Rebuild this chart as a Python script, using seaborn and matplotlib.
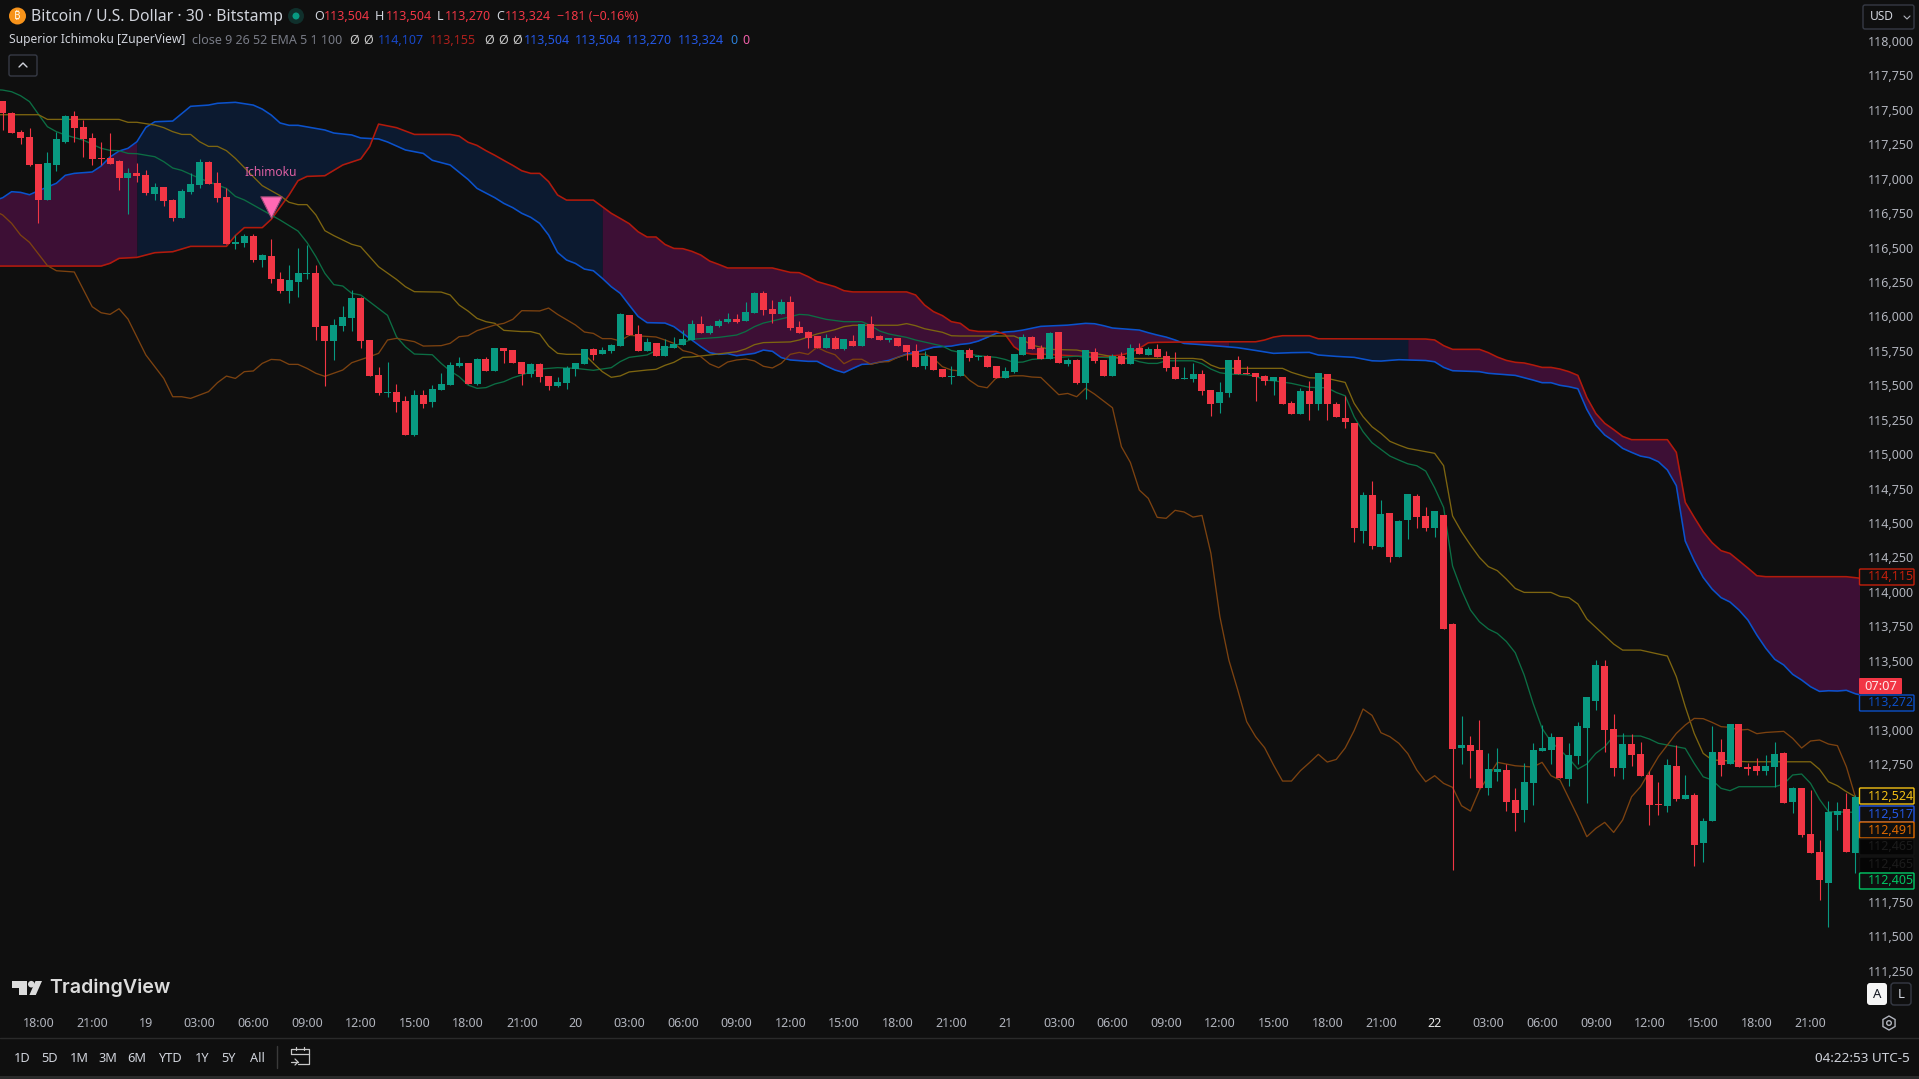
import numpy as np
import matplotlib
matplotlib.use('Agg')
import matplotlib.pyplot as plt
import seaborn as sns
from matplotlib.patches import Circle, FancyBboxPatch, Polygon, RegularPolygon

# candles, one value per 30 minute bar
candle_dir = ("RRRRRGGGRR" "RRRRGRRGRR" "GGGRRRGGRG" "RRGGGRRGGG" "RRRGRRGRGG"
              "GGRGRGRRRG" "RRGGGGRGGG" "RRGRGGGGRG" "GGRGGRRGRR" "RRGRGRGRRG"
              "RRRGRRGGRG" "RRGGGRRGRG" "RGRRGRGRGR" "RRGGRRGGRR" "RRGRRGRGRR"
              "RRGRGRGGRR" "GRRGRRGGRR" "GGGGRGGGGR" "RGRRRRGRGR" "GGRGRRRGGR"
              "GRRRGGRG")
candle_high = [
    117565, 117485, 117354, 117368, 117107, 117194, 117342, 117465, 117492, 117427,
    117330, 117267, 117332, 117136, 117078, 117114, 117063, 116969, 116940, 116853,
    116925, 117042, 117143, 117129, 117049, 116933, 116591, 116599, 116599, 116453,
    116562, 116323, 116373, 116497, 116519, 116373, 115931, 115981, 116076, 116192,
    116141, 115829, 115633, 115669, 115509, 115422, 115466, 115466, 115502, 115589,
    115669, 115705, 115662, 115698, 115706, 115771, 115771, 115756, 115669, 115662,
    115662, 115568, 115560, 115640, 115662, 115764, 115771, 115778, 115800, 116025,
    116011, 115938, 115844, 115807, 115836, 115851, 115902, 115974, 116003, 115938,
    115982, 116025, 116018, 116105, 116178, 116185, 116120, 116127, 116149, 115967,
    115894, 115858, 115873, 115858, 115836, 115865, 115945, 116003, 115865, 115844,
    115844, 115793, 115800, 115749, 115713, 115618, 115640, 115756, 115770, 115720,
    115720, 115640, 115632, 115727, 115872, 115858, 115792, 115887, 115887, 115698,
    115691, 115756, 115770, 115683, 115727, 115741, 115800, 115807, 115778, 115800,
    115749, 115741, 115632, 115662, 115611, 115465, 115524, 115683, 115712, 115640,
    115589, 115574, 115560, 115560, 115386, 115480, 115531, 115589, 115582, 115378,
    115422, 115226, 114725, 114805, 114667, 114572, 114521, 114710, 114710, 114616,
    114587, 114558, 113774, 113098, 112953, 113069, 112829, 112866, 112750, 112575,
    112757, 112902, 113033, 112975, 112946, 112902, 113055, 113236, 113505, 113505,
    113113, 112975, 112967, 112909, 112699, 112619, 112786, 112887, 112670, 112539,
    112357, 113025, 112931, 113040, 113040, 112757, 112793, 112815, 112909, 112837,
    112582, 112575, 112561, 112198, 112481, 112474, 112539, 112524]
candle_top = [
    117565, 117477, 117339, 117303, 117107, 117114, 117289, 117456, 117456, 117376,
    117296, 117151, 117151, 117129, 117042, 117042, 117027, 116940, 116940, 116846,
    116911, 116962, 117122, 117122, 116969, 116867, 116541, 116584, 116584, 116446,
    116439, 116272, 116265, 116315, 116315, 116315, 115931, 115938, 115996, 116134,
    116134, 115829, 115575, 115451, 115451, 115386, 115429, 115429, 115473, 115509,
    115647, 115662, 115662, 115691, 115691, 115771, 115771, 115756, 115669, 115655,
    115655, 115568, 115524, 115626, 115662, 115764, 115764, 115756, 115793, 116018,
    116011, 115873, 115815, 115807, 115785, 115800, 115836, 115945, 115945, 115931,
    115967, 115982, 115982, 116032, 116170, 116170, 116054, 116105, 116105, 115923,
    115887, 115858, 115844, 115844, 115836, 115822, 115945, 115945, 115858, 115844,
    115844, 115793, 115749, 115713, 115713, 115618, 115568, 115756, 115756, 115712,
    115712, 115640, 115603, 115727, 115850, 115850, 115770, 115879, 115887, 115683,
    115683, 115756, 115741, 115683, 115712, 115712, 115770, 115770, 115763, 115763,
    115712, 115632, 115553, 115582, 115582, 115465, 115451, 115683, 115683, 115589,
    115589, 115567, 115560, 115560, 115371, 115458, 115458, 115589, 115582, 115364,
    115262, 115226, 114703, 114703, 114565, 114572, 114514, 114710, 114696, 114550,
    114587, 114558, 113766, 112887, 112887, 112851, 112713, 112713, 112706, 112488,
    112619, 112851, 112866, 112946, 112946, 112815, 113025, 113236, 113468, 113461,
    113004, 112895, 112895, 112822, 112670, 112459, 112742, 112735, 112524, 112524,
    112336, 112837, 112837, 113040, 113040, 112728, 112735, 112735, 112822, 112829,
    112575, 112575, 112241, 112110, 112401, 112408, 112423, 112510]
candle_bottom = [
    117475, 117335, 117296, 117100, 116846, 116846, 117100, 117267, 117368, 117289,
    117143, 117143, 117107, 117005, 117005, 117020, 116896, 116889, 116838, 116715,
    116715, 116904, 116954, 116962, 116860, 116526, 116526, 116533, 116410, 116410,
    116272, 116185, 116185, 116250, 116308, 115923, 115822, 115822, 115931, 115989,
    115822, 115567, 115444, 115444, 115379, 115139, 115139, 115364, 115379, 115466,
    115502, 115640, 115509, 115509, 115604, 115604, 115749, 115662, 115582, 115582,
    115560, 115495, 115495, 115517, 115618, 115655, 115720, 115727, 115749, 115785,
    115865, 115749, 115749, 115713, 115713, 115771, 115793, 115829, 115880, 115880,
    115931, 115960, 115960, 115967, 116025, 116047, 116018, 116018, 115916, 115880,
    115844, 115771, 115771, 115764, 115764, 115785, 115785, 115844, 115829, 115829,
    115785, 115742, 115633, 115640, 115611, 115560, 115560, 115568, 115698, 115705,
    115632, 115553, 115553, 115596, 115720, 115763, 115691, 115691, 115662, 115654,
    115516, 115516, 115676, 115567, 115567, 115654, 115654, 115727, 115720, 115705,
    115625, 115545, 115545, 115545, 115458, 115364, 115371, 115444, 115582, 115582,
    115560, 115531, 115531, 115364, 115291, 115291, 115364, 115364, 115364, 115269,
    115233, 114463, 114441, 114333, 114325, 114253, 114253, 114521, 114543, 114463,
    114463, 113730, 112859, 112866, 112844, 112575, 112575, 112691, 112474, 112394,
    112415, 112612, 112844, 112851, 112648, 112641, 112808, 113011, 113207, 112996,
    112720, 112720, 112815, 112662, 112452, 112452, 112444, 112495, 112495, 112161,
    112176, 112336, 112742, 112750, 112728, 112713, 112699, 112699, 112728, 112466,
    112474, 112234, 112103, 111907, 111885, 112379, 112110, 112103]
candle_low = [
    117354, 117335, 117252, 117092, 116681, 116846, 117059, 117262, 117267, 117158,
    117100, 117100, 117107, 116918, 116744, 116976, 116882, 116846, 116802, 116693,
    116715, 116889, 116933, 116962, 116831, 116526, 116490, 116504, 116395, 116359,
    116243, 116170, 116098, 116141, 116272, 115829, 115495, 115684, 115894, 115894,
    115771, 115567, 115429, 115415, 115306, 115139, 115132, 115335, 115342, 115466,
    115502, 115633, 115509, 115502, 115604, 115604, 115662, 115662, 115502, 115560,
    115524, 115466, 115488, 115473, 115568, 115655, 115684, 115727, 115735, 115785,
    115865, 115749, 115749, 115713, 115713, 115771, 115793, 115829, 115880, 115873,
    115923, 115952, 115952, 115967, 116025, 116011, 115952, 116018, 115902, 115880,
    115771, 115771, 115771, 115764, 115756, 115785, 115785, 115844, 115829, 115815,
    115785, 115684, 115633, 115618, 115611, 115560, 115510, 115568, 115676, 115683,
    115632, 115553, 115553, 115589, 115720, 115763, 115691, 115691, 115662, 115640,
    115509, 115400, 115662, 115567, 115567, 115654, 115654, 115727, 115720, 115705,
    115603, 115545, 115545, 115524, 115429, 115277, 115298, 115415, 115582, 115582,
    115386, 115502, 115429, 115364, 115291, 115291, 115248, 115320, 115248, 115269,
    115189, 114362, 114354, 114311, 114325, 114216, 114253, 114383, 114463, 114441,
    114398, 113730, 111980, 112750, 112648, 112575, 112524, 112626, 112408, 112263,
    112328, 112452, 112844, 112750, 112648, 112590, 112750, 112466, 113142, 112837,
    112662, 112641, 112735, 112662, 112306, 112379, 112401, 112481, 112495, 112009,
    112038, 112336, 112662, 112750, 112728, 112670, 112670, 112670, 112582, 112466,
    112394, 112219, 112103, 111762, 111566, 112270, 112110, 111958]

# indicator lines: bar number and price at each kink (bar -1 runs off the left edge)
blue_bar = [-1, 0, 1, 2, 3, 4, 6, 7, 8, 10, 11, 12, 13, 14, 15, 16, 17, 19, 21, 23, 24, 26, 28, 29, 30, 31, 32, 33, 36,
            37, 39, 40, 42, 43, 45, 47, 48, 50, 52, 53, 55, 56, 57, 58, 59, 60, 61, 62, 63, 64, 65, 66, 67, 68, 69, 70,
            71, 72, 74, 75, 76, 77, 78, 79, 80, 81, 82, 84, 85, 86, 87, 88, 90, 91, 92, 93, 94, 95, 96, 97, 99, 100,
            101, 102, 104, 105, 106, 107, 108, 109, 110, 111, 112, 113, 114, 116, 119, 121, 122, 123, 124, 127, 128,
            129, 130, 131, 132, 134, 138, 140, 142, 144, 146, 147, 149, 151, 153, 154, 156, 159, 160, 161, 162, 165,
            166, 169, 171, 172, 173, 174, 175, 176, 177, 178, 179, 180, 181, 182, 183, 184, 185, 186, 187, 188, 189,
            190, 191, 192, 193, 194, 195, 196, 197, 198, 199, 200, 201, 202, 203, 204, 205, 206, 207, 208]
blue_price = [116840, 116862, 116906, 116901, 116884, 116913, 116967, 117025, 117039, 117049, 117092, 117158, 117201,
              117221, 117269, 117373, 117414, 117419, 117526, 117535, 117548, 117555, 117535, 117506, 117463, 117405,
              117388, 117388, 117354, 117332, 117318, 117296, 117289, 117267, 117209, 117184, 117134, 117100, 116995,
              116930, 116862, 116821, 116790, 116749, 116720, 116676, 116591, 116465, 116410, 116385, 116344, 116332,
              116277, 116216, 116168, 116083, 116000, 115955, 115952, 115926, 115877, 115829, 115781, 115737, 115725,
              115730, 115715, 115732, 115756, 115747, 115701, 115684, 115674, 115674, 115640, 115611, 115592, 115623,
              115652, 115655, 115681, 115703, 115727, 115739, 115776, 115781, 115785, 115797, 115804, 115821, 115848,
              115877, 115887, 115891, 115901, 115928, 115937, 115950, 115947, 115933, 115916, 115901, 115882, 115865,
              115850, 115829, 115804, 115795, 115773, 115753, 115732, 115737, 115739, 115720, 115710, 115703, 115678,
              115676, 115686, 115680, 115671, 115630, 115606, 115599, 115587, 115572, 115538, 115519, 115519, 115500,
              115490, 115475, 115325, 115211, 115139, 115095, 115042, 115013, 114986, 114974, 114945, 114885, 114771,
              114369, 114226, 114105, 114020, 113958, 113926, 113868, 113795, 113686, 113590, 113510, 113469, 113401,
              113360, 113311, 113277, 113282, 113280, 113285, 113260, 113245]
red_bar = [-1, 0, 11, 12, 13, 15, 17, 19, 21, 25, 26, 27, 29, 30, 32, 33, 34, 36, 38, 40, 41, 42, 44, 46, 50, 51, 52,
           53, 54, 55, 56, 57, 58, 59, 60, 61, 62, 63, 66, 67, 68, 69, 70, 71, 72, 73, 74, 75, 76, 77, 78, 79, 80, 81,
           86, 88, 89, 90, 91, 93, 94, 95, 101, 102, 103, 104, 105, 106, 107, 108, 109, 111, 112, 113, 114, 115, 117,
           120, 123, 125, 126, 127, 128, 129, 134, 140, 141, 142, 143, 146, 147, 159, 160, 161, 162, 165, 166, 167,
           168, 169, 170, 171, 172, 173, 174, 175, 176, 177, 178, 179, 180, 181, 182, 186, 187, 188, 189, 190, 191,
           192, 193, 194, 195, 196, 197, 206, 207, 208]
red_price = [116366, 116366, 116366, 116386, 116422, 116429, 116463, 116470, 116509, 116509, 116587, 116645, 116645,
             116705, 116882, 116986, 117017, 117022, 117100, 117143, 117233, 117397, 117371, 117322, 117322, 117310,
             117265, 117242, 117204, 117170, 117133, 117097, 117058, 117039, 117039, 116979, 116882, 116845, 116845,
             116797, 116749, 116712, 116674, 116615, 116577, 116577, 116523, 116494, 116492, 116473, 116446, 116402,
             116378, 116352, 116352, 116320, 116318, 116289, 116253, 116216, 116187, 116178, 116178, 116156, 116083,
             116035, 116006, 115962, 115950, 115901, 115891, 115891, 115870, 115780, 115737, 115727, 115724, 115712,
             115707, 115720, 115739, 115768, 115809, 115812, 115816, 115816, 115829, 115850, 115860, 115860, 115838,
             115836, 115829, 115788, 115761, 115761, 115737, 115705, 115681, 115667, 115662, 115647, 115630, 115630,
             115618, 115599, 115572, 115412, 115296, 115224, 115178, 115129, 115105, 115105, 115013, 114650, 114541,
             114437, 114357, 114299, 114279, 114226, 114173, 114117, 114110, 114110, 114103, 114095]
green_bar = [-1, 0, 1, 2, 3, 4, 5, 6, 7, 9, 11, 12, 13, 14, 15, 17, 18, 19, 20, 22, 25, 26, 27, 30, 31, 33, 34, 35, 36,
             37, 38, 39, 40, 41, 42, 43, 44, 45, 46, 48, 49, 50, 51, 52, 53, 54, 55, 56, 57, 58, 59, 60, 62, 64, 66, 68,
             69, 70, 72, 73, 75, 77, 78, 80, 82, 83, 84, 85, 86, 88, 89, 90, 92, 94, 96, 97, 98, 99, 101, 102, 105, 106,
             107, 108, 109, 111, 112, 113, 114, 115, 116, 120, 121, 123, 126, 127, 128, 129, 130, 133, 134, 135, 136,
             137, 139, 140, 141, 142, 144, 146, 148, 149, 150, 151, 152, 153, 154, 155, 156, 157, 158, 159, 160, 161,
             162, 163, 164, 165, 166, 167, 168, 169, 170, 171, 172, 173, 175, 176, 177, 178, 179, 180, 183, 184, 185,
             188, 189, 190, 191, 192, 193, 194, 198, 199, 200, 201, 202, 203, 204, 207]
green_price = [117648, 117644, 117632, 117603, 117560, 117468, 117378, 117342, 117318, 117281, 117221, 117206, 117204,
               117184, 117182, 117160, 117124, 117078, 117061, 117003, 116930, 116872, 116846, 116737, 116700, 116620,
               116538, 116434, 116313, 116231, 116221, 116168, 116156, 116107, 116059, 116008, 115853, 115780, 115727,
               115722, 115659, 115604, 115563, 115502, 115478, 115483, 115510, 115526, 115555, 115575, 115599, 115618,
               115628, 115623, 115609, 115628, 115672, 115703, 115720, 115752, 115785, 115834, 115839, 115848, 115865,
               115890, 115926, 115952, 115967, 115998, 116015, 116011, 115979, 115962, 115962, 115933, 115894, 115873,
               115848, 115829, 115785, 115752, 115739, 115727, 115715, 115703, 115688, 115666, 115669, 115688, 115693,
               115712, 115703, 115703, 115693, 115671, 115659, 115659, 115678, 115678, 115657, 115618, 115591, 115582,
               115577, 115567, 115538, 115533, 115514, 115485, 115482, 115448, 115424, 115272, 115163, 115083, 115035,
               114986, 114957, 114930, 114916, 114877, 114755, 114613, 114187, 114013, 113868, 113783, 113730, 113698,
               113640, 113558, 113396, 113190, 113009, 112912, 112791, 112713, 112750, 112827, 112875, 112953, 112953,
               112931, 112900, 112863, 112754, 112657, 112633, 112573, 112556, 112585, 112585, 112604, 112670, 112677,
               112609, 112493, 112403, 112399]
yellow_bar = [-1, 0, 4, 5, 13, 14, 15, 17, 18, 19, 20, 21, 22, 23, 24, 25, 26, 28, 29, 31, 32, 33, 34, 35, 36, 37, 39,
              40, 41, 42, 44, 45, 46, 49, 50, 51, 52, 53, 54, 55, 56, 58, 59, 60, 61, 62, 63, 65, 66, 67, 68, 69, 70, 72,
              73, 74, 75, 76, 77, 79, 82, 83, 84, 85, 88, 89, 91, 93, 94, 95, 100, 101, 102, 103, 105, 106, 107, 113,
              114, 115, 117, 120, 121, 123, 125, 133, 134, 135, 136, 143, 144, 145, 146, 148, 150, 151, 152, 153, 154,
              155, 156, 157, 159, 160, 161, 162, 163, 164, 165, 166, 167, 168, 169, 170, 173, 174, 175, 176, 177, 178,
              179, 180, 181, 183, 186, 187, 188, 189, 190, 191, 195, 202, 203, 204, 205, 206, 207]
yellow_price = [117465, 117465, 117465, 117431, 117431, 117410, 117410, 117390, 117371, 117342, 117322, 117322, 117269,
                117235, 117235, 117204, 117148, 117015, 116950, 116877, 116829, 116812, 116812, 116737, 116623, 116587,
                116524, 116507, 116434, 116361, 116269, 116216, 116180, 116177, 116156, 116083, 116039, 115986, 115962,
                115950, 115899, 115890, 115890, 115873, 115785, 115732, 115725, 115725, 115660, 115599, 115558, 115568,
                115597, 115611, 115616, 115645, 115667, 115703, 115706, 115720, 115744, 115764, 115795, 115810, 115815,
                115829, 115873, 115904, 115926, 115936, 115936, 115948, 115933, 115911, 115885, 115860, 115858, 115858,
                115829, 115792, 115761, 115756, 115744, 115720, 115695, 115695, 115688, 115647, 115623, 115623, 115594,
                115574, 115555, 115550, 115521, 115369, 115272, 115199, 115151, 115093, 115066, 115042, 115018, 115006,
                114916, 114551, 114437, 114340, 114250, 114183, 114154, 114093, 114025, 113996, 113996, 113967, 113958,
                113912, 113803, 113742, 113682, 113621, 113577, 113577, 113534, 113384, 113166, 112972, 112827, 112779,
                112766, 112766, 112711, 112621, 112592, 112549, 112512]
orange_bar = [-1, 0, 1, 2, 3, 5, 6, 8, 10, 11, 12, 13, 14, 16, 18, 19, 20, 21, 23, 24, 25, 26, 27, 28, 29, 30, 31, 32,
              33, 34, 35, 36, 38, 39, 41, 42, 43, 44, 46, 47, 49, 50, 51, 52, 53, 55, 56, 57, 58, 60, 61, 62, 64, 65, 66,
              67, 68, 69, 70, 73, 74, 75, 76, 77, 78, 79, 80, 81, 82, 83, 84, 85, 86, 87, 88, 89, 90, 91, 92, 93, 94, 95,
              96, 97, 98, 99, 100, 101, 103, 104, 105, 106, 107, 108, 109, 110, 111, 112, 113, 114, 115, 116, 118, 119,
              120, 121, 122, 123, 124, 125, 126, 127, 128, 129, 130, 131, 132, 133, 134, 135, 136, 137, 138, 139, 140,
              141, 142, 143, 144, 145, 146, 147, 148, 149, 150, 151, 152, 153, 154, 155, 156, 157, 158, 159, 160, 161,
              162, 163, 164, 165, 166, 167, 169, 171, 172, 173, 174, 176, 177, 178, 179, 180, 181, 182, 183, 184, 185,
              187, 188, 189, 190, 191, 192, 193, 194, 195, 196, 197, 199, 200, 201, 202, 203, 204, 205, 206, 207]
orange_price = [116770, 116737, 116676, 116591, 116538, 116369, 116332, 116323, 116071, 116027, 116015, 116056, 115981,
                115720, 115550, 115417, 115417, 115405, 115454, 115519, 115567, 115550, 115599, 115604, 115659, 115688,
                115684, 115652, 115652, 115623, 115587, 115565, 115611, 115664, 115708, 115732, 115829, 115841, 115817,
                115785, 115788, 115805, 115853, 115860, 115897, 115938, 115950, 115979, 116042, 116040, 116061, 116015,
                115938, 115887, 115877, 115839, 115839, 115822, 115863, 115851, 115829, 115805, 115752, 115737, 115708,
                115655, 115628, 115669, 115684, 115691, 115677, 115638, 115626, 115660, 115725, 115739, 115725, 115776,
                115744, 115722, 115657, 115689, 115689, 115652, 115669, 115672, 115703, 115722, 115727, 115696, 115635,
                115611, 115604, 115538, 115494, 115482, 115553, 115562, 115569, 115569, 115560, 115557, 115432, 115441,
                115417, 115478, 115436, 115386, 115337, 115054, 114940, 114739, 114679, 114541, 114534, 114592, 114580,
                114543, 114555, 114279, 113820, 113505, 113287, 113057, 112948, 112868, 112742, 112626, 112626, 112701,
                112759, 112820, 112764, 112783, 112866, 112992, 113149, 113103, 112977, 112948, 112900, 112825, 112706,
                112621, 112665, 112609, 112580, 112447, 112408, 112561, 112658, 112762, 112737, 112728, 112762, 112665,
                112633, 112367, 112222, 112282, 112326, 112253, 112343, 112512, 112585, 112694, 112803, 112972, 113033,
                113081, 113079, 113052, 113021, 113016, 112996, 113001, 112970, 112979, 112987, 112936, 112866, 112917,
                112924, 112895, 112883, 112730, 112512]

# where the cloud changes colour (bar numbers)
cloud_edges = [-1, 15, 67, 137, 157, 208]
cloud_kind = ['bear', 'bull', 'bear', 'bull', 'bear']

signal_bar = 30
signal_price = 116797
signal_text_price = 117049

# the other round prices sit behind the tags on the price scale
price_ticks = [111250, 111500, 111750, 112750, 113000, 113500, 113750, 114000, 114250, 114500, 114750, 115000, 115250,
               115500, 115750, 116000, 116250, 116500, 116750, 117000, 117250, 117500, 117750, 118000]
time_labels = ['18:00', '21:00', '19', '03:00', '06:00', '09:00', '12:00', '15:00', '18:00', '21:00',
               '20', '03:00', '06:00', '09:00', '12:00', '15:00', '18:00', '21:00',
               '21', '03:00', '06:00', '09:00', '12:00', '15:00', '18:00', '21:00',
               '22', '03:00', '06:00', '09:00', '12:00', '15:00', '18:00', '21:00']
time_bars = list(range(4, 208, 6))

range_buttons = ['1D', '5D', '1M', '3M', '6M', 'YTD', '1Y', '5Y', 'All']
tag_values = ['114,115', '113,272', '112,524', '112,517', '112,491', '112,465', '112,465', '112,405']
tag_colors = ['#c4200c', '#0c50c8', '#f2c014', '#2458e6', '#e06a00', '#141414', '#141414', '#00c864']
tag_tops = [569, 695, 788, 806, 822, 839, 857, 873]

W, H = 1919, 1079
PANE_W, PANE_H = 1859, 1013
BG = '#0f0f0f'
UP = '#089981'
DOWN = '#f23645'
GREY = '#b2b5be'
FONT = 'Noto Sans'

sns.set_theme(style='dark', rc={'axes.facecolor': BG, 'figure.facecolor': BG, 'axes.grid': False})
plt.rcParams['font.family'] = [FONT, 'DejaVu Sans']

fig = plt.figure(figsize=(W / 100, H / 100), dpi=100)
ax = fig.add_axes([0, 1 - PANE_H / H, PANE_W / W, PANE_H / H])

# cloud
bars = np.arange(-1, 209)
blue_on_bars = np.interp(bars, blue_bar, blue_price)
red_on_bars = np.interp(bars, red_bar, red_price)
cloud_colors = {'bear': '#3d0f35', 'bull': '#0c1a30'}
for start, end, kind in zip(cloud_edges[:-1], cloud_edges[1:], cloud_kind):
    keep = (bars >= start) & (bars <= end)
    ax.fill_between(bars[keep], blue_on_bars[keep], red_on_bars[keep], color=cloud_colors[kind], lw=0, zorder=1)

# indicator lines
line_style = [(blue_bar, blue_price, '#0b52cc', 1.15), (red_bar, red_price, '#b21a0c', 1.15),
              (green_bar, green_price, '#0c6e44', 0.95), (yellow_bar, yellow_price, '#7d6510', 0.95),
              (orange_bar, orange_price, '#7c4210', 0.95)]
for xs, ys, color, width in line_style:
    sns.lineplot(x=xs, y=ys, color=color, linewidth=width, ax=ax, estimator=None, sort=False, legend=False, zorder=2)

# candles
x = np.arange(len(candle_dir))
colors = [UP if d == 'G' else DOWN for d in candle_dir]
ax.vlines(x, candle_low, candle_high, colors=colors, linewidth=0.8, zorder=3)
ax.bar(x, np.array(candle_top) - np.array(candle_bottom), bottom=candle_bottom, width=0.78, color=colors,
       linewidth=0, zorder=4)

# signal
ax.scatter([signal_bar], [signal_price], marker='v', s=235, color='#ff69b4', edgecolors='#a04a78', linewidths=0.8,
           zorder=5)
ax.text(signal_bar, signal_text_price, 'Ichimoku', color='#dc5fa2', fontsize=8.6, ha='center', va='center', zorder=5)

# same scale as the screenshot: 8.95 px per bar, 0.1377 px per dollar
ax.set_xlim(-2.67 / 8.95, (PANE_W - 2.67) / 8.95)
ax.set_ylim(113500 - (PANE_H - 660.7) / 0.1377, 113500 + 660.7 / 0.1377)
ax.set_xlabel('')
ax.set_ylabel('')
ax.yaxis.tick_right()
ax.set_yticks(price_ticks, [f'{p:,}' for p in price_ticks])
ax.set_xticks(time_bars, time_labels)
ax.tick_params(axis='y', length=0, pad=6.3, labelsize=9, labelcolor=GREY)
ax.tick_params(axis='x', length=0, pad=3, labelsize=9, labelcolor=GREY)
for tick, label_text in zip(ax.get_xticklabels(), time_labels):
    if label_text == '22':
        tick.set_color('#e8e8e8')
        tick.set_fontweight('bold')
for spine in ax.spines.values():
    spine.set_visible(False)

# everything around the chart, in screen pixels
ui = fig.add_axes([0, 0, 1, 1], zorder=5)
ui.patch.set_alpha(0)
ui.set_xlim(0, W)
ui.set_ylim(H, 0)
ui.axis('off')


def label(px, py, s, color=GREY, size=9, ha='left', **kw):
    ui.text(px, py, s, color=color, fontsize=size, ha=ha, va='center', **kw)


def box(px, py, w, h, face, edge, r=2, lw=1.0):
    ui.add_patch(FancyBboxPatch((px + r, py + r), w - 2 * r, h - 2 * r, boxstyle=f'round,pad={r},rounding_size={r}',
                                facecolor=face, edgecolor=edge, linewidth=lw))


# header
ui.add_patch(Circle((17.5, 16), 8.5, color='#f7931a', lw=0))
label(17.5, 16, '\u20bf', color='#fff3e0', size=8, ha='center',
      family=['Noto Sans', 'Roboto', 'Open Sans', 'Lato', 'Inter', 'Liberation Sans', 'DejaVu Sans'])
label(31, 17, 'Bitcoin / U.S. Dollar · 30 · Bitstamp', color='#d1d4dc', size=11.3)
ui.add_patch(Circle((296, 16), 8, color='#10302c', lw=0))
ui.add_patch(Circle((296, 16), 3.5, color='#089981', lw=0))
for px, s, c in [(314, 'O', '#d1d4dc'), (324, '113,504', DOWN), (375, 'H', '#d1d4dc'), (386, '113,504', DOWN),
                 (437, 'L', '#d1d4dc'), (445, '113,270', DOWN), (496, 'C', '#d1d4dc'), (505, '113,324', DOWN),
                 (557, '\u2212181 (\u22120.16%)', DOWN)]:
    label(px, 17, s, color=c, size=9.0)
label(9, 40, 'Superior Ichimoku [ZuperView]', color='#d1d4dc', size=8.7)
label(192, 40, 'close 9 26 52 EMA 5 1 100', color='#787b86', size=9.0)
for px, s, c in [(349, 'Ø', '#c8c8c8'), (363, 'Ø', '#c8c8c8'), (378, '114,107', '#1848c8'), (430, '113,155', '#b0201c'),
                 (484, 'Ø', '#c8c8c8'), (498, 'Ø', '#c8c8c8'), (512, 'Ø', '#c8c8c8'), (524, '113,504', '#2458e6'),
                 (575, '113,504', '#2458e6'), (626, '113,270', '#2458e6'), (678, '113,324', '#2458e6'),
                 (730, '0', '#2c80d8'), (742, '0', '#f060a8')]:
    label(px, 40, s, color=c, size=9.0)
box(9, 55, 28, 21, BG, '#363a45')
ui.plot([19, 23, 27], [67, 63, 67], color='#d1d4dc', lw=1)

# currency button
box(1863, 5, 51, 24, '#0f0f0f', '#363a45')
label(1870, 17, 'USD', color='#d1d4dc', size=8.6)
ui.plot([1904, 1907, 1910], [16, 19, 16], color='#b2b5be', lw=0.8)

# price tags on the right
for value, color, top in zip(tag_values, tag_colors, tag_tops):
    box(1859.5, top, 54.5, 16, BG if color != '#141414' else '#050505', color, r=1, lw=1.0)
    label(1867.5, top + 8, value, color=color if color != '#141414' else '#1c1c1c', size=9)
box(1859, 678, 43, 16, DOWN, DOWN, r=1, lw=0)
label(1881, 686, '07:07', color='#ffe6e8', size=9.3, ha='center', fontweight='bold')

# logo
ui.add_patch(Polygon([(12, 981), (27, 981), (27, 995), (19, 995), (19, 988), (12, 988)], color='#dcdcdc', lw=0))
ui.add_patch(Circle((31.3, 984.2), 3.3, color='#dcdcdc', lw=0))
ui.add_patch(Polygon([(35.5, 981), (42, 981), (35.8, 995), (29.4, 995)], color='#dcdcdc', lw=0))
label(49, 988, 'TradingView', color='#dcdcdc', size=14.1, family='Inter', fontweight='semibold')

# A and L buttons, settings
box(1867, 983, 20, 22, '#f5f5f5', '#f5f5f5', r=3, lw=0)
label(1877, 994, 'A', color='#131722', size=9.5, ha='center')
box(1891, 983, 20, 22, BG, '#363a45', r=3)
label(1901, 994, 'L', color='#d1d4dc', size=9.5, ha='center')
ui.add_patch(RegularPolygon((1889, 1023), 6, radius=7, fill=False, edgecolor='#b2b5be', linewidth=1))
ui.add_patch(Circle((1889, 1023), 2.3, fill=False, edgecolor='#b2b5be', linewidth=1))

# bottom bar
ui.plot([0, W], [1037.5, 1037.5], color='#2a2a2a', lw=1)
ui.add_patch(plt.Rectangle((0, 1076), W, 3, color='#2a2a2a', lw=0))
for cx, s in zip([22, 50, 79, 108, 137, 170, 202, 229, 257], range_buttons):
    label(cx, 1058, s, color='#d1d4dc', size=9.2, ha='center')
ui.plot([276.5, 276.5], [1046, 1068], color='#3a3a3a', lw=1)
ui.plot([291, 291, 309, 309, 298], [1054, 1049, 1049, 1064, 1064], color='#c8c8c8', lw=0.9)
ui.plot([291, 309], [1053.5, 1053.5], color='#c8c8c8', lw=0.9)
ui.plot([296, 296], [1047, 1050], color='#c8c8c8', lw=0.9)
ui.plot([304, 304], [1047, 1050], color='#c8c8c8', lw=0.9)
ui.plot([291, 298], [1062, 1062], color='#c8c8c8', lw=0.9)
ui.plot([295, 298, 295], [1059, 1062, 1065], color='#c8c8c8', lw=0.9)
label(1910, 1058, '04:22:53 UTC-5', color='#d1d4dc', size=9.7, ha='right')

fig.savefig('out.png', dpi=100, facecolor=BG)
